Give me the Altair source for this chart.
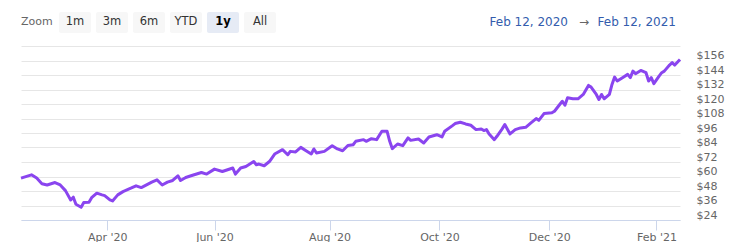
import altair as alt
import pandas as pd
import numpy as np

# ---- data ----
dates = [
    "2020-02-13", "2020-02-20", "2020-02-24", "2020-02-26", "2020-02-28", "2020-03-04", "2020-03-06",
    "2020-03-10", "2020-03-12", "2020-03-13", "2020-03-16", "2020-03-18", "2020-03-19", "2020-03-23",
    "2020-03-24", "2020-03-26", "2020-03-30", "2020-03-31", "2020-04-02", "2020-04-03", "2020-04-07",
    "2020-04-09", "2020-04-15", "2020-04-17", "2020-04-21", "2020-04-23", "2020-04-27", "2020-04-29",
    "2020-05-01", "2020-05-05", "2020-05-07", "2020-05-11", "2020-05-12", "2020-05-14", "2020-05-18",
    "2020-05-22", "2020-05-27", "2020-06-01", "2020-06-04", "2020-06-10", "2020-06-11", "2020-06-15",
    "2020-06-17", "2020-06-22", "2020-06-23", "2020-06-24", "2020-06-26", "2020-06-30", "2020-07-02",
    "2020-07-08", "2020-07-10", "2020-07-13", "2020-07-15", "2020-07-17", "2020-07-21", "2020-07-23",
    "2020-07-24", "2020-07-27", "2020-07-30", "2020-08-04", "2020-08-06", "2020-08-10", "2020-08-12",
    "2020-08-14", "2020-08-17", "2020-08-20", "2020-08-21", "2020-08-25", "2020-08-27", "2020-08-31",
    "2020-09-02", "2020-09-03", "2020-09-04", "2020-09-09", "2020-09-11", "2020-09-15", "2020-09-16",
    "2020-09-21", "2020-09-23", "2020-09-25", "2020-09-30", "2020-10-02", "2020-10-05", "2020-10-08",
    "2020-10-09", "2020-10-13", "2020-10-15", "2020-10-19", "2020-10-21", "2020-10-23", "2020-10-26",
    "2020-10-27", "2020-10-28", "2020-10-30", "2020-11-02", "2020-11-04", "2020-11-05", "2020-11-09",
    "2020-11-11", "2020-11-13", "2020-11-17", "2020-11-19", "2020-11-23", "2020-11-24", "2020-11-27",
    "2020-12-02", "2020-12-03", "2020-12-07", "2020-12-08", "2020-12-09", "2020-12-10", "2020-12-14",
    "2020-12-16", "2020-12-18", "2020-12-22", "2020-12-23", "2020-12-28", "2020-12-29", "2020-12-30",
    "2020-12-31", "2021-01-05", "2021-01-06", "2021-01-07", "2021-01-08", "2021-01-12", "2021-01-14",
    "2021-01-15", "2021-01-19", "2021-01-20", "2021-01-22", "2021-01-26", "2021-01-27", "2021-01-28",
    "2021-01-29", "2021-02-02", "2021-02-03", "2021-02-04", "2021-02-08", "2021-02-09", "2021-02-10",
    "2021-02-12",
]
prices = [
    58.7, 61.4, 58.7, 54.0, 53.0, 55.0, 53.0,
    48.3, 40.6, 42.9, 37.0, 34.5, 38.4, 38.7,
    42.5, 46.2, 44.8, 44.2, 40.6, 39.8, 44.8,
    47.5, 50.3, 52.3, 50.8, 53.0, 55.3, 57.2,
    53.0, 55.3, 56.7, 60.6, 56.7, 59.2, 60.6,
    63.3, 62.0, 66.1, 64.1, 67.0, 62.0, 67.0,
    68.3, 72.4, 69.7, 70.3, 68.9, 72.4, 78.6,
    82.2, 78.0, 80.8, 80.3, 84.1, 81.3, 78.6,
    82.8, 79.4, 80.8, 85.5, 82.8, 81.3, 85.7,
    86.3, 89.1, 90.5, 89.1, 91.3, 90.5, 97.4,
    97.4, 89.1, 83.0, 86.9, 85.5, 91.9, 89.9,
    91.0, 87.7, 92.7, 94.6, 92.7, 97.4, 102.1,
    103.8, 104.9, 103.5, 102.4, 98.8, 99.4, 98.0,
    98.8, 95.2, 90.5, 93.3, 99.4, 103.0, 95.2,
    98.8, 100.2, 100.7, 104.4, 107.9, 106.5, 112.1,
    112.7, 114.0, 119.6, 122.3, 119.0, 125.1, 124.3,
    124.3, 127.9, 135.4, 134.0, 127.9, 123.7, 127.9,
    124.3, 127.9, 136.2, 142.3, 139.0, 141.8, 144.5,
    141.8, 147.2, 145.1, 147.8, 145.9, 139.0, 141.8,
    136.8, 143.1, 145.9, 147.2, 152.2, 154.2, 152.2,
    156.9,
]
tick_dates = ["2020-04-01", "2020-06-01", "2020-08-01", "2020-10-01", "2020-12-01", "2021-02-01"]
tick_labels = ["Apr '20", "Jun '20", "Aug '20", "Oct '20", "Dec '20", "Feb '21"]
y_ticks = list(range(24, 169, 12))
buttons = ["1m", "3m", "6m", "YTD", "1y", "All"]
selected_button = "1y"
range_from = "Feb 12, 2020"
range_to = "Feb 12, 2021"
range_start = "2020-02-12"
range_end = "2021-02-12"
market_holidays = ["2020-02-17", "2020-04-10", "2020-05-25", "2020-07-03", "2020-09-07",
                   "2020-11-26", "2020-12-25", "2021-01-01", "2021-01-18"]

# ordinal (trading-session) axis like a stock chart
def session(d):
    return int(np.busday_count(range_start, d, holidays=market_holidays))

df = pd.DataFrame({"date": dates, "price": prices})
df["session"] = [session(d) for d in dates]
tick_sessions = [session(d) for d in tick_dates]
x_min = df["session"].min()
x_max = session(range_end)

label_expr = " : ".join(f'datum.value == {s} ? "{l}"' for s, l in zip(tick_sessions, tick_labels)) + ' : ""'
y_label_expr = f'datum.value == {max(y_ticks)} ? "" : "$" + datum.value'

FONT = "DejaVu Sans"
W, H = 659, 174

line = alt.Chart(df).mark_line(color="#8a45ef", strokeWidth=3, strokeJoin="round").encode(
    x=alt.X("session:Q",
            scale=alt.Scale(domain=[x_min, x_max], nice=False, zero=False),
            axis=alt.Axis(values=tick_sessions, labelExpr=label_expr, title=None, grid=False,
                          domainColor="#ccd6eb", tickColor="#ccd6eb", tickSize=10,
                          labelColor="#666666", labelFontSize=11, labelFont=FONT,
                          labelPadding=1, labelFlush=False)),
    y=alt.Y("price:Q",
            scale=alt.Scale(domain=[24, 168], nice=False, zero=False),
            axis=alt.Axis(orient="right", values=y_ticks, labelExpr=y_label_expr, title=None,
                          grid=True, gridColor="#e6e6e6", domain=False, ticks=False,
                          labelColor="#666666", labelFontSize=11, labelFont=FONT,
                          labelAlign="left", labelBaseline="bottom", labelPadding=16)),
)

layers = [line]
one = pd.DataFrame({"k": [0]})

# range selector buttons
layers.append(alt.Chart(one).mark_text(align="left", baseline="middle", font=FONT, fontSize=11,
                                       color="#666666").encode(
    x=alt.value(0), y=alt.value(-24), text=alt.value("Zoom")))
for i, b in enumerate(buttons):
    x0 = 38 + i * 37
    sel = b == selected_button
    layers.append(alt.Chart(one).mark_rect(color="#e6ebf5" if sel else "#f7f7f7", cornerRadius=2).encode(
        x=alt.value(x0), x2=alt.value(x0 + 32), y=alt.value(-34), y2=alt.value(-13)))
    layers.append(alt.Chart(one).mark_text(align="center", baseline="middle", font=FONT, fontSize=11.5,
                                           fontWeight="bold" if sel else "normal",
                                           color="#000000" if sel else "#333333").encode(
        x=alt.value(x0 + 16), y=alt.value(-24), text=alt.value(b)))

# date range display
layers.append(alt.Chart(one).mark_text(align="right", baseline="middle", font=FONT, fontSize=12,
                                       color="#335cad").encode(
    x=alt.value(547), y=alt.value(-24), text=alt.value(range_from)))
layers.append(alt.Chart(one).mark_text(align="center", baseline="middle", font=FONT, fontSize=12,
                                       color="#666666").encode(
    x=alt.value(563), y=alt.value(-24), text=alt.value("\u2192")))
layers.append(alt.Chart(one).mark_text(align="right", baseline="middle", font=FONT, fontSize=12,
                                       color="#335cad").encode(
    x=alt.value(655), y=alt.value(-24), text=alt.value(range_to)))

chart = alt.layer(*layers).properties(
    width=W, height=H,
    autosize=alt.AutoSizeParams(type="none"),
    padding={"left": 21, "top": 46, "right": 57, "bottom": 22},
    background="#ffffff",
).configure_view(stroke="transparent")

chart.save("out.html", embed_options={"renderer": "svg", "actions": False})
